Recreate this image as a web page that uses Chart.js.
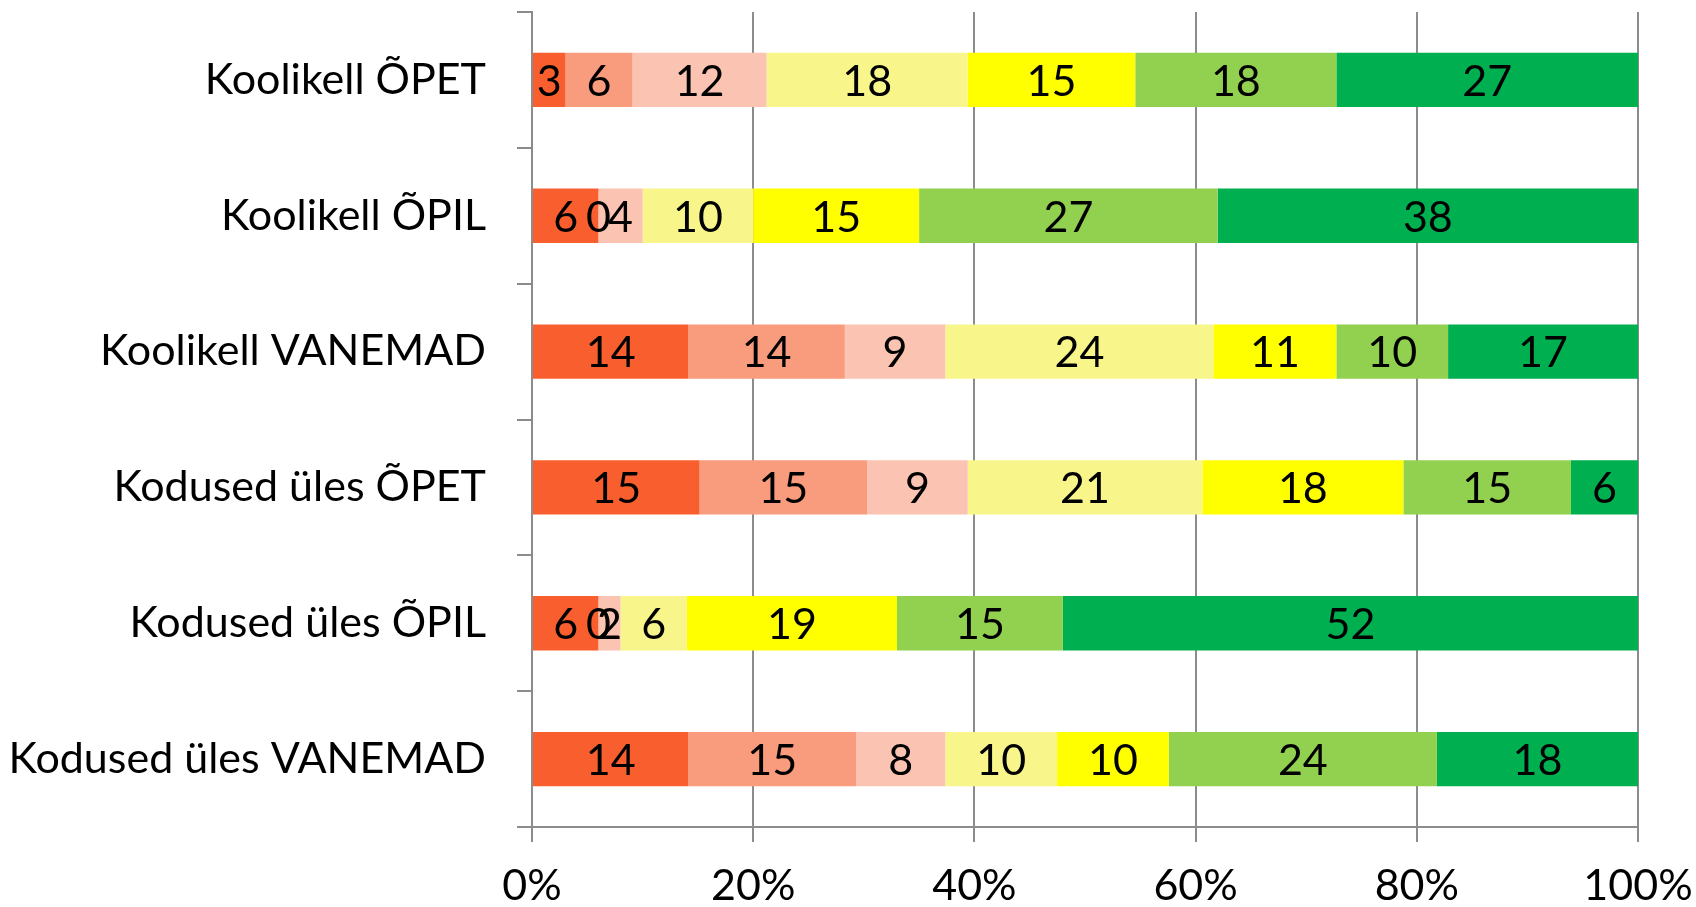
<!DOCTYPE html>
<html>
<head>
<meta charset="utf-8">
<script src="https://cdn.jsdelivr.net/npm/chart.js@4"></script>
<style>
  html, body { margin: 0; padding: 0; background: #fff; }
  #wrap { width: 1696px; height: 907px; }
</style>
</head>
<body>
<div id="wrap"><canvas id="chart" width="1696" height="907"></canvas></div>
<script>
// categories (top to bottom)
const categories = [
    'Koolikell ÕPET',
    'Koolikell ÕPIL',
    'Koolikell VANEMAD',
    'Kodused üles ÕPET',
    'Kodused üles ÕPIL',
    'Kodused üles VANEMAD'
];

// series values as printed on the bars (percent, rounded)
const seriesNames = ['1', '2', '3', '4', '5', '6', '7'];
const s1 = [3, 6, 14, 15, 6, 14];
const s2 = [6, 0, 14, 15, 0, 15];
const s3 = [12, 4, 9, 9, 2, 8];
const s4 = [18, 10, 24, 21, 6, 10];
const s5 = [15, 15, 11, 18, 19, 10];
const s6 = [18, 27, 10, 15, 15, 24];
const s7 = [27, 38, 17, 6, 52, 18];
const seriesValues = [s1, s2, s3, s4, s5, s6, s7];

const seriesColors = ['#F95F2E', '#F99B7D', '#FBC3B1', '#F8F68A', '#FFFF00', '#92D050', '#00B050'];
const xTicks = [0, 20, 40, 60, 80, 100];

const FONT = 'Lato';
const FONT_SIZE = 43;
const gridGray = '#8c8c8c';

// 100% stacked: scale each row to its total
const rowTotals = categories.map((c, j) => seriesValues.reduce((a, s) => a + s[j], 0));

const datasets = seriesValues.map((vals, i) => ({
    label: seriesNames[i],
    data: vals.map((v, j) => v / rowTotals[j] * 100),
    rawValues: vals,
    backgroundColor: seriesColors[i],
    borderWidth: 0,
    barPercentage: 0.4,
    categoryPercentage: 1.0
}));

const valueLabels = {
    id: 'valueLabels',
    afterDatasetsDraw(chart) {
        let ctx = chart.ctx;
        ctx.save();
        ctx.font = FONT_SIZE + 'px ' + FONT;
        ctx.fillStyle = '#000';
        ctx.textAlign = 'center';
        ctx.textBaseline = 'middle';
        chart.data.datasets.forEach((ds, i) => {
            chart.getDatasetMeta(i).data.forEach((bar, j) => {
                let p = bar.getCenterPoint();
                ctx.fillText(String(ds.rawValues[j]), p.x, p.y + 2);
            });
        });
        ctx.restore();
    }
};

let ctx = document.getElementById('chart').getContext('2d');
let chart = new Chart(ctx, {
    type: 'bar',
    data: { labels: categories, datasets: datasets },
    plugins: [valueLabels],
    options: {
        indexAxis: 'y',
        responsive: false,
        animation: false,
        layout: { padding: { top: 12, right: 58, left: 0, bottom: 0 } },
        plugins: {
            legend: { display: false },
            tooltip: { enabled: false }
        },
        scales: {
            x: {
                stacked: true,
                min: 0,
                max: 100,
                afterBuildTicks: scale => { scale.ticks = xTicks.map(v => ({ value: v })); },
                ticks: {
                    callback: v => v + '%',
                    font: { family: FONT, size: FONT_SIZE },
                    color: '#000',
                    padding: 18,
                    maxRotation: 0
                },
                grid: { color: gridGray, lineWidth: 2, tickLength: 15, drawTicks: true },
                border: { color: gridGray, width: 2 },
                afterFit: scale => {
                    scale.height = 80;
                    scale.paddingLeft = 0;
                    scale.paddingRight = 0;
                }
            },
            y: {
                stacked: true,
                ticks: {
                    font: { family: FONT, size: FONT_SIZE },
                    color: '#000',
                    padding: 31
                },
                grid: { offset: true, drawOnChartArea: false, tickLength: 15, color: gridGray, lineWidth: 2 },
                border: { color: gridGray, width: 2 },
                afterFit: scale => {
                    scale.width = 532;
                    scale.paddingTop = 0;
                    scale.paddingBottom = 0;
                }
            }
        }
    }
});
</script>
</body>
</html>
